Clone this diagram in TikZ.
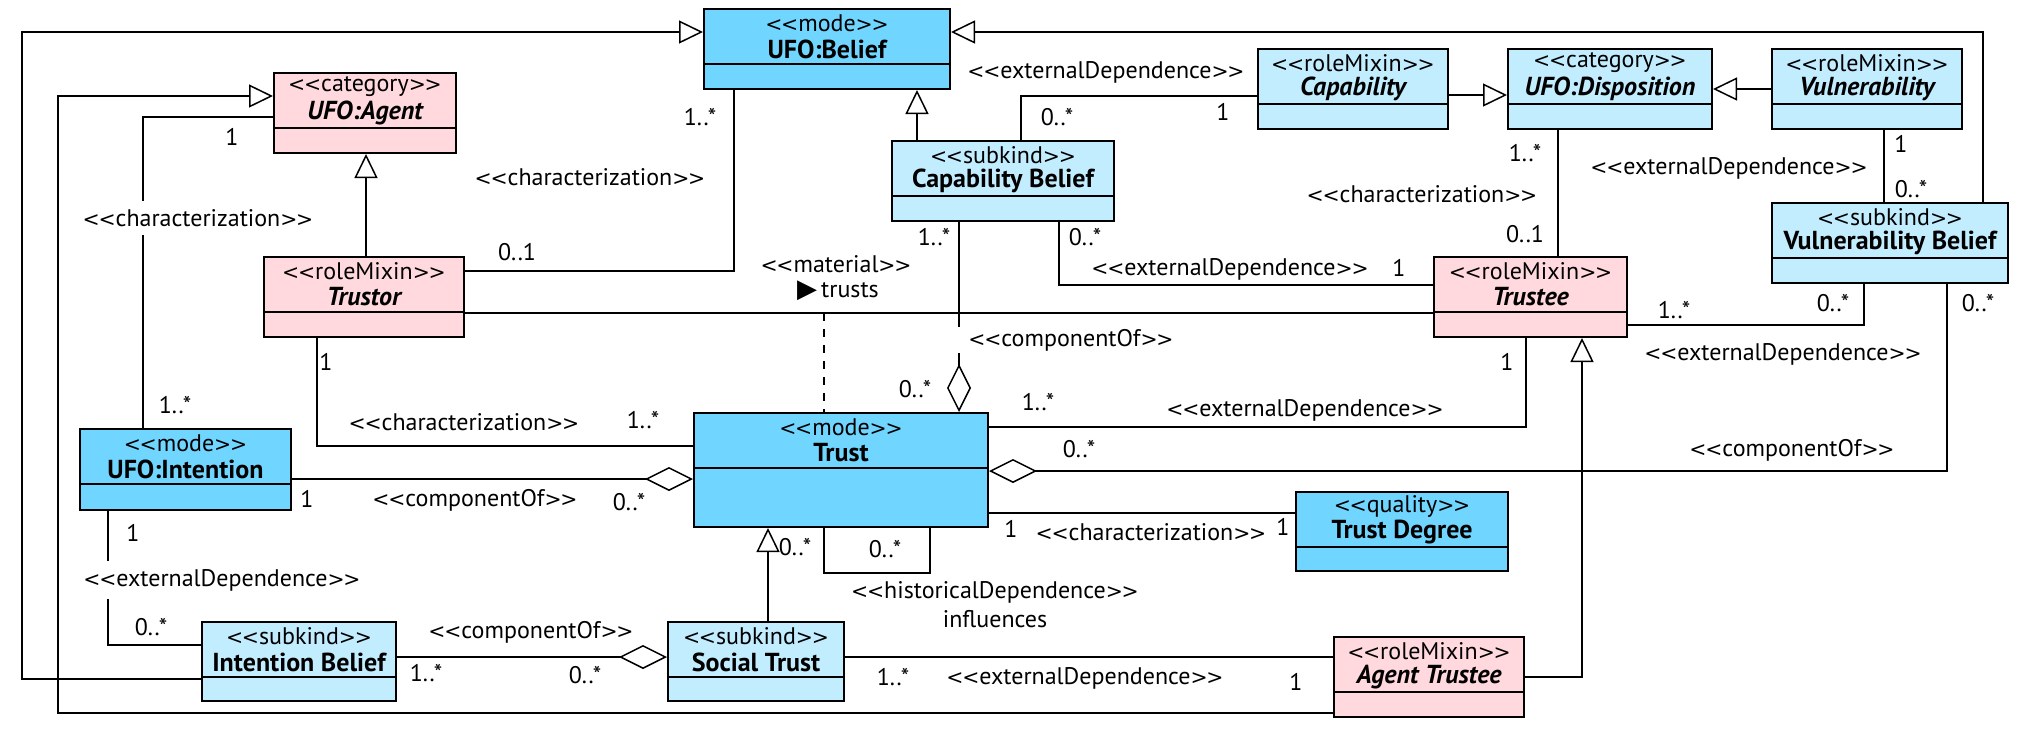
\documentclass[tikz,border=0pt]{standalone}
\usepackage{fontspec}
\setmainfont{PT Sans}
\newfontfamily\symfont{DejaVu Sans}
\newfontfamily\chevfont{DejaVu Sans}[Scale=0.85]
\usetikzlibrary{arrows.meta,calc,fit}

\definecolor{modeblue}{HTML}{70D6FF}
\definecolor{kindblue}{HTML}{C2EDFF}
\definecolor{rolepink}{HTML}{FFD9DE}

\newcommand{\stp}[1]{{\chevfont<\kern-0.6pt<}#1{\chevfont>\kern-0.6pt>}}

\tikzset{
  cls/.style={draw, line width=1pt, inner sep=0pt},
  modecls/.style={cls, fill=modeblue},
  kindcls/.style={cls, fill=kindblue},
  rolecls/.style={cls, fill=rolepink},
  stereo/.style={inner sep=0pt, font=\fontsize{12}{14}\selectfont},
  clsname/.style={inner sep=0pt, font=\fontsize{13}{15}\selectfont\bfseries},
  lab/.style={inner sep=1pt, font=\fontsize{12}{14}\selectfont},
  cover/.style={lab, fill=white, inner xsep=5pt, inner ysep=4pt},
  conn/.style={line width=0.75pt},
  gen/.style={conn, -{Triangle[open, length=12pt, width=11.5pt]}},
  agg/.style={conn, -{Diamond[open, length=24pt, width=12pt]}}
}

% class box: style, name, x1, y1, x2, y2, stereotype, title
\newcommand{\umlclass}[8]{%
  \node[#1, fit={(#3,#4) (#5,#6)}] (#2) {};
  \draw[line width=1pt] ($(#2.north west)+(0,56)$) -- ($(#2.north east)+(0,56)$);
  \node[stereo] (#2-st) at ($(#2.north)+(0,15)$) {\stp{#7}};
  \node[clsname] (#2-ti) at ($(#2.north)+(0,41)$) {#8};
}

\begin{document}
\begin{tikzpicture}[x=0.5pt, y=-0.5pt]
	\useasboundingbox (0,0) rectangle (2024,746);
	% Classes
	\umlclass{modecls}{belief}{704}{9}{950}{89}{mode}{UFO:Belief}
	\umlclass{rolecls}{agent}{274}{73}{456}{153}{category}{\itshape UFO:Agent}
	\umlclass{kindcls}{capab}{1258}{49}{1448}{129}{roleMixin}{\itshape Capability}
	\umlclass{kindcls}{disp}{1508}{49}{1712}{129}{category}{\itshape UFO:Disposition}
	\umlclass{kindcls}{vuln}{1772}{49}{1962}{129}{roleMixin}{\itshape Vulnerability}
	\umlclass{kindcls}{cbelief}{892}{141}{1114}{221}{subkind}{Capability Belief}
	\umlclass{kindcls}{vbelief}{1772}{203}{2008}{283}{subkind}{Vulnerability Belief}
	\umlclass{rolecls}{trustor}{264}{257}{464}{337}{roleMixin}{\itshape Trustor}
	\umlclass{rolecls}{trustee}{1434}{257}{1627}{337}{roleMixin}{\itshape Trustee}
	\umlclass{modecls}{intention}{80}{429}{291}{510}{mode}{UFO:Intention}
	\umlclass{modecls}{trust}{694}{413}{988}{527}{mode}{Trust}
	\umlclass{modecls}{tdegree}{1296}{492}{1508}{571}{quality}{Trust Degree}
	\umlclass{kindcls}{ibelief}{202}{622}{396}{701}{subkind}{Intention Belief}
	\umlclass{kindcls}{strust}{668}{622}{844}{701}{subkind}{Social Trust}
	\umlclass{rolecls}{atrustee}{1334}{637}{1524}{717}{roleMixin}{\itshape Agent Trustee}
	% Generalizations
	\draw[gen] (ibelief.west |- 0,679) -| (22,32) -- (belief.west |- 0,32);
	\draw[gen] (atrustee.west |- 0,713) -| (58,96) -- (agent.west |- 0,96);
	\draw[gen] (trustor.north -| 366,0) -- (agent.south -| 366,0);
	\draw[gen] (cbelief.north -| 917,0) -- (belief.south -| 917,0);
	\draw[gen] (vbelief.north -| 1983,0) |- (belief.east |- 0,32);
	\draw[gen] (capab.east |- 0,95) -- (disp.west |- 0,95);
	\draw[gen] (vuln.west |- 0,89) -- (disp.east |- 0,89);
	\draw[gen] (atrustee.east |- 0,677) -| (trustee.south -| 1582,0);
	\draw[gen] (strust.north -| 768,0) -- (trust.south -| 768,0);
	% Associations
	\draw[conn] (agent.west |- 0,117) -| (intention.north -| 143,0);
	\draw[conn] (belief.south -| 734,0) |- (trustor.east |- 0,271);
	\draw[conn] (capab.west |- 0,96) -| (cbelief.north -| 1021,0);
	\draw[agg] (cbelief.south -| 959,0) -- (trust.north -| 959,0);
	\draw[conn] (cbelief.south -| 1059,0) |- (trustee.west |- 0,285);
	\draw[conn] (trustor.east |- 0,313) -- (trustee.west |- 0,313);
	\coordinate (trusts) at (824,313);
	\draw[conn, dash pattern=on 4pt off 4pt] (trusts) -- (trust.north -| trusts);
	\draw[conn] (trustor.south -| 317,0) |- (trust.west |- 0,446);
	\draw[agg] (intention.east |- 0,479) -- (trust.west |- 0,479);
	\draw[conn] (intention.south -| 108,0) |- (ibelief.west |- 0,645);
	\draw[agg] (ibelief.east |- 0,657) -- (strust.west |- 0,657);
	\draw[conn] (strust.east |- 0,657) -- (atrustee.west |- 0,657);
	\draw[conn] (trust.east |- 0,427) -| (trustee.south -| 1526,0);
	\draw[agg] (vbelief.south -| 1947,0) |- (trust.east |- 0,471);
	\draw[conn] (trust.east |- 0,513) -- (tdegree.west |- 0,513);
	\draw[conn] (trust.south -| 824,0) |- (930,573) -| (trust.south -| 930,0);
	\draw[conn] (trustee.east |- 0,325) -| (vbelief.south -| 1864,0);
	\draw[conn] (disp.south -| 1558,0) -- (trustee.north -| 1558,0);
	\draw[conn] (vuln.south -| 1884,0) -- (vbelief.north -| 1884,0);
	% Association names
	\node[cover] (n-agentchar) at (198,218) {\stp{characterization}};
	\node[lab] (n-beliefchar) at (590,177) {\stp{characterization}};
	\node[lab] (n-capdep) at (1106,72) {\stp{externalDependence}};
	\node[lab] (n-material) at (836,264) {\stp{material}};
	\node[lab] (n-trusts) at (838,291) {{\symfont\fontsize{13}{14}\selectfont ▶}\,trusts};
	\node[cover, inner ysep=1pt] (n-capcomp) at (1071,340) {\stp{componentOf}};
	\node[lab] (n-cbdep) at (1230,269) {\stp{externalDependence}};
	\node[lab] (n-dispchar) at (1422,194) {\stp{characterization}};
	\node[lab] (n-vulndep) at (1729,168) {\stp{externalDependence}};
	\node[lab] (n-vbdep) at (1783,354) {\stp{externalDependence}};
	\node[lab] (n-trustorchar) at (464,422) {\stp{characterization}};
	\node[lab] (n-intcomp) at (475,500) {\stp{componentOf}};
	\node[cover] (n-intdep) at (222,580) {\stp{externalDependence}};
	\node[lab] (n-ibcomp) at (531,632) {\stp{componentOf}};
	\node[lab] (n-trusteedep) at (1305,410) {\stp{externalDependence}};
	\node[lab] (n-vbcomp) at (1792,450) {\stp{componentOf}};
	\node[lab] (n-degchar) at (1151,532) {\stp{characterization}};
	\node[lab] (n-hist) at (995,592) {\stp{historicalDependence}};
	\node[lab] (n-infl) at (995,619) {influences};
	\node[lab] (n-atdep) at (1085,678) {\stp{externalDependence}};
	% Multiplicities
	\node[lab] (m1) at (232,137) {1};
	\node[lab] (m2) at (175,405) {1..*};
	\node[lab] (m3) at (517,252) {0..1};
	\node[lab] (m4) at (700,117) {1..*};
	\node[lab] (m5) at (1057,117) {0..*};
	\node[lab] (m6) at (1223,112) {1};
	\node[lab] (m7) at (934,237) {1..*};
	\node[lab] (m8) at (1085,237) {0..*};
	\node[lab] (m9) at (1525,153) {1..*};
	\node[lab] (m10) at (1525,234) {0..1};
	\node[lab] (m11) at (1399,268) {1};
	\node[lab] (m12) at (1901,144) {1};
	\node[lab] (m13) at (1911,189) {0..*};
	\node[lab] (m14) at (1674,310) {1..*};
	\node[lab] (m15) at (1833,303) {0..*};
	\node[lab] (m16) at (1978,303) {0..*};
	\node[lab] (m17) at (1507,362) {1};
	\node[lab] (m18) at (326,362) {1};
	\node[lab] (m19) at (643,420) {1..*};
	\node[lab] (m20) at (307,499) {1};
	\node[lab] (m21) at (629,502) {0..*};
	\node[lab] (m22) at (133,533) {1};
	\node[lab] (m23) at (151,627) {0..*};
	\node[lab] (m24) at (426,673) {1..*};
	\node[lab] (m25) at (585,675) {0..*};
	\node[lab] (m26) at (915,389) {0..*};
	\node[lab] (m27) at (1038,402) {1..*};
	\node[lab] (m28) at (1079,449) {0..*};
	\node[lab] (m29) at (1011,529) {1};
	\node[lab] (m30) at (1283,527) {1};
	\node[lab] (m31) at (795,547) {0..*};
	\node[lab] (m32) at (885,549) {0..*};
	\node[lab] (m33) at (893,677) {1..*};
	\node[lab] (m34) at (1296,682) {1};
\end{tikzpicture}
\end{document}
